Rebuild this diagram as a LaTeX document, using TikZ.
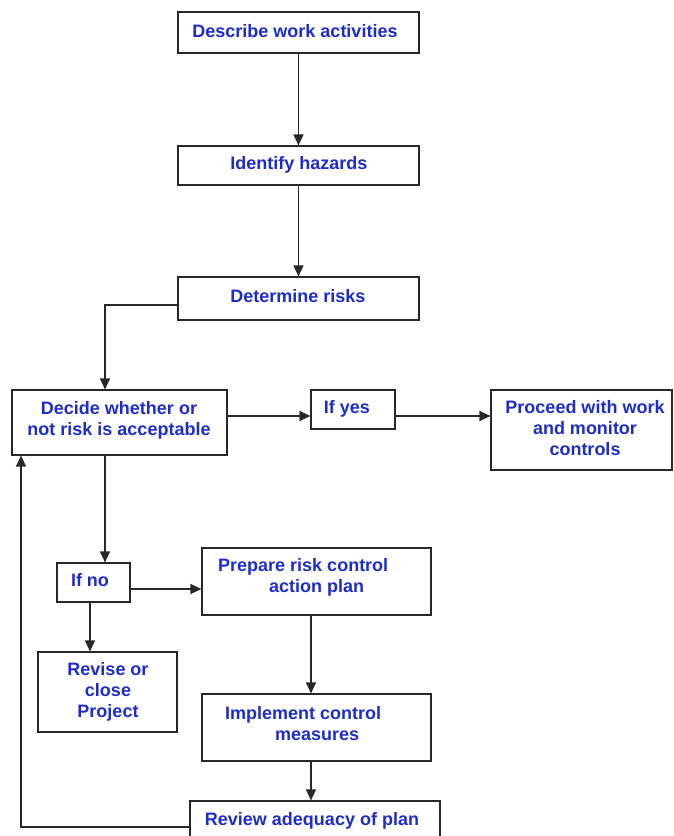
\documentclass[tikz,border=0pt]{standalone}
\usepackage{fontspec}
\setmainfont{Liberation Sans}
\usetikzlibrary{arrows.meta}
\definecolor{txtblue}{RGB}{30,45,200}
\definecolor{linecol}{RGB}{40,40,40}
\tikzset{
  box/.style={draw=linecol, line width=1.2pt, rectangle, inner sep=0pt, fill=white},
  lbl/.style={text=txtblue, font=\fontsize{18}{21}\selectfont\bfseries, inner sep=0pt, align=center},
  arr/.style={draw=linecol, line width=1.3pt, -{Triangle[length=11pt,width=10pt]}},
  ln/.style={draw=linecol, line width=1.3pt}
}
\begin{document}
\begin{tikzpicture}[x=1pt,y=1pt]
\useasboundingbox (0,0) rectangle (673,-836);
% boxes
\node[box, minimum width=241pt, minimum height=41pt] (b1) at (298.5,-32.5) {};
\node[box, minimum width=241pt, minimum height=39pt] (b2) at (298.5,-165.5) {};
\node[box, minimum width=241pt, minimum height=43pt] (b3) at (298.5,-298.5) {};
\node[box, minimum width=215pt, minimum height=65pt] (b4) at (119.5,-422.5) {};
\node[box, minimum width=84pt, minimum height=39pt] (b5) at (353,-409.5) {};
\node[box, minimum width=181pt, minimum height=80pt] (b6) at (581.5,-430) {};
\node[box, minimum width=73pt, minimum height=39pt] (b7) at (93.5,-582.5) {};
\node[box, minimum width=229pt, minimum height=67pt] (b8) at (316.5,-581.5) {};
\node[box, minimum width=139pt, minimum height=80pt] (b9) at (107.5,-692) {};
\node[box, minimum width=229pt, minimum height=67pt] (b10) at (316.5,-727.5) {};
\node[box, minimum width=250pt, minimum height=49pt] (b11) at (315,-825.5) {};
% helper coordinates
\coordinate (xa) at (105,0);
\coordinate (xb) at (90,0);
\coordinate (xc) at (311,0);
\coordinate (xd) at (21,0);
\coordinate (ya) at (0,-305);
\coordinate (yb) at (0,-416);
\coordinate (yc) at (0,-589);
\coordinate (yd) at (0,-827);
% texts
\node[lbl] (t1) at (295,-31) {Describe work activities};
\node[lbl] (t2) at (299,-165) {Identify hazards};
\node[lbl] (t3) at (298,-296.5) {Determine risks};
\node[lbl] (t4) at (119,-420) {Decide whether or\\not risk is acceptable};
\node[lbl] (t5) at (347,-409) {If yes};
\node[lbl] (t6) at (585,-428.5) {Proceed with work\\and monitor\\controls};
\node[lbl] (t7) at (90,-580.5) {If no};
\node[lbl, align=left, anchor=north west] (t8) at (218,-558.5) {Prepare risk control\\\hspace*{51pt}action plan};
\node[lbl] (t9) at (108,-691.5) {Revise or\\close\\Project};
\node[lbl, align=left, anchor=north west] (t10) at (225,-706) {Implement control\\\hspace*{50pt}measures};
\node[lbl] (t11) at (312,-821) {Review adequacy of plan};
% connectors
\draw[arr] (b1.south) -- (b2.north);
\draw[arr] (b2.south) -- (b3.north);
\draw[arr] (b3.west |- ya) -| (b4.north -| xa);
\draw[arr] (b4.east |- yb) -- (b5.west |- yb);
\draw[arr] (b5.east |- yb) -- (b6.west |- yb);
\draw[arr] (b4.south -| xa) -- (b7.north -| xa);
\draw[arr] (b7.east |- yc) -- (b8.west |- yc);
\draw[arr] (b7.south -| xb) -- (b9.north -| xb);
\draw[arr] (b8.south -| xc) -- (b10.north -| xc);
\draw[arr] (b10.south -| xc) -- (b11.north -| xc);
\draw[arr] (b11.west |- yd) -| (b4.south -| xd);
\end{tikzpicture}
\end{document}
